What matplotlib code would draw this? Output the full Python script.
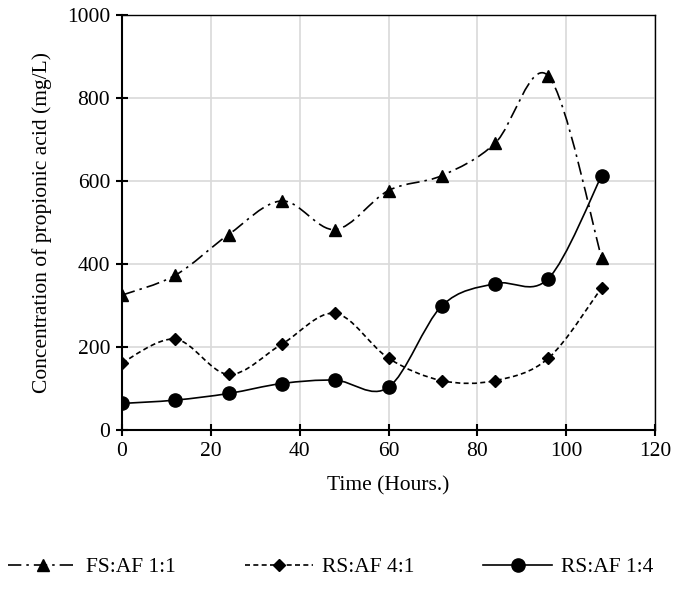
import matplotlib
matplotlib.use("Agg")
import matplotlib.pyplot as plt
from matplotlib.path import Path
from matplotlib.patches import PathPatch
from matplotlib.lines import Line2D
import numpy as np

plt.rcParams['font.family'] = ['Liberation Serif', 'DejaVu Serif']

hours = [0, 12, 24, 36, 48, 60, 72, 84, 96, 108]
fs_af_1_1 = [325, 373, 471, 552, 483, 577, 613, 691, 853, 414]
rs_af_4_1 = [162, 219, 134, 207, 281, 173, 119, 119, 173, 343]
rs_af_1_4 = [64, 72, 88, 112, 120, 103, 299, 353, 365, 613]
labels = ["FS:AF 1:1", "RS:AF 4:1", "RS:AF 1:4"]

FS = 15.5

fig = plt.figure(figsize=(6.75, 5.96), dpi=100)
ax = fig.add_axes([122/675, 1-430/596, (655-122)/675, (430-15)/596])


def smooth_path(x, y):
    x = np.asarray(x, float)
    y = np.asarray(y, float)
    n = len(x)
    verts = [(x[0], y[0])]
    codes = [Path.MOVETO]
    for i in range(n - 1):
        p0 = np.array([x[max(i-1, 0)], y[max(i-1, 0)]])
        p1 = np.array([x[i], y[i]])
        p2 = np.array([x[i+1], y[i+1]])
        p3 = np.array([x[min(i+2, n-1)], y[min(i+2, n-1)]])
        c1 = p1 + (p2 - p0) / 6.0
        c2 = p2 - (p3 - p1) / 6.0
        verts += [tuple(c1), tuple(c2), tuple(p2)]
        codes += [Path.CURVE4] * 3
    return Path(verts, codes)


series = [
    (fs_af_1_1, (0, (8, 3, 1.5, 3)), '^', 8),
    (rs_af_4_1, (0, (3, 2)), 'D', 6),
    (rs_af_1_4, '-', 'o', 9.5),
]
handles = []
for (vals, ls, mk, ms), lab in zip(series, labels):
    patch = PathPatch(smooth_path(hours, vals), fill=False, edgecolor='black',
                      linewidth=1.2, linestyle=ls, zorder=3)
    ax.add_patch(patch)
    ax.plot(hours, vals, linestyle='none', marker=mk, markersize=ms,
            color='black', zorder=4)
    handles.append(Line2D([], [], color='black', linestyle=ls, linewidth=1.2,
                          marker=mk, markersize=ms))

ax.set_xlim(0, 120)
ax.set_ylim(0, 1000)
ax.set_xticks(range(0, 121, 20))
ax.set_yticks(range(0, 1001, 200))
ax.grid(True, color='#d9d9d9', linewidth=1.2)
ax.set_axisbelow(True)
for s in ['left', 'bottom']:
    ax.spines[s].set_linewidth(1.5)
for s in ['top', 'right']:
    ax.spines[s].set_linewidth(1.0)
ax.tick_params(direction='inout', length=9, width=1.5, labelsize=FS, pad=4)
ax.set_xlabel("Time (Hours.)", fontsize=FS, labelpad=11)
ax.set_ylabel("Concentration of propionic acid (mg/L)", fontsize=FS, labelpad=11)

fig.legend(handles, labels, loc='center', bbox_to_anchor=(0.49, 1-567/596),
           ncol=3, frameon=False, fontsize=FS, handlelength=3.2,
           columnspacing=3.2, handletextpad=0.4)

fig.savefig("out.png", dpi=100)
